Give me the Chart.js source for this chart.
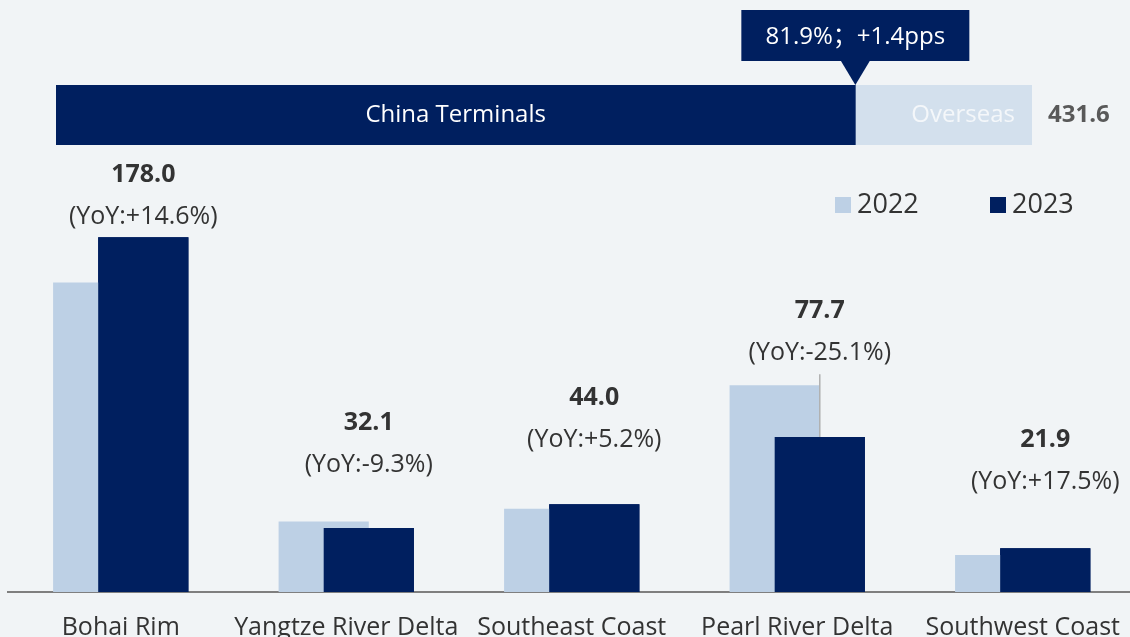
<!DOCTYPE html>
<html>
<head>
<meta charset="utf-8">
<script src="https://cdn.jsdelivr.net/npm/chart.js@4.4.1/dist/chart.umd.min.js"></script>
<style>
    html, body { margin: 0; padding: 0; background: #f1f4f6; overflow: hidden; }
    #wrap { position: relative; width: 1130px; height: 637px; overflow: hidden; }
    #mainChart { position: absolute; left: 0; top: 0; }
    #shareChart { position: absolute; left: 0; top: 0; }
</style>
</head>
<body>
<div id="wrap">
    <canvas id="mainChart" width="1141" height="637"></canvas>
    <canvas id="shareChart" width="1130" height="160"></canvas>
</div>
<script>
// data
const regions = ['Bohai Rim', 'Yangtze River Delta', 'Southeast Coast', 'Pearl River Delta', 'Southwest Coast'];
const seriesNames = ['2022', '2023'];
const values2022 = [155.3, 35.4, 41.8, 103.7, 18.6];
const values2023 = [178.0, 32.1, 44.0, 77.7, 21.9];
const yoyChange = [14.6, -9.3, 5.2, -25.1, 17.5];

const shareLabels = ['China Terminals', 'Overseas'];
const chinaShare = [81.9];
const overseasShare = [18.1];
const totalThroughput = '431.6';
const shareNote = '81.9%；+1.4pps';

// colours / fonts
const NAVY = '#001f5f';
const LIGHT = '#bdd0e5';
const PALE = '#d3e0ed';
const TEXT = '#333333';
const FONT = "'Open Sans', 'Noto Sans CJK SC', sans-serif";

// how far above the 2023 bar the YoY line sits
const yoyLift = [20, 63, 64, 84, 66];

// labels, legend and leader line for the region chart
const regionLabels = {
    id: 'regionLabels',
    afterDatasetsDraw(chart) {
        const ctx = chart.ctx;
        // 2023 bars go in front of the 2022 ones
        chart.getDatasetMeta(1).controller.draw();

        const meta = chart.getDatasetMeta(1);
        ctx.save();
        ctx.textAlign = 'center';
        ctx.textBaseline = 'middle';
        meta.data.forEach((bar, i) => {
            const yoyY = bar.y - yoyLift[i];
            ctx.fillStyle = TEXT;
            ctx.font = `bold 25px ${FONT}`;
            ctx.fillText(values2023[i].toFixed(1), bar.x, yoyY - 42);
            ctx.font = `25px ${FONT}`;
            const sign = yoyChange[i] > 0 ? '+' : '';
            ctx.fillText(`(YoY:${sign}${yoyChange[i].toFixed(1)}%)`, bar.x, yoyY);
        });

        // leader line on Pearl River Delta
        const pearl = meta.data[3];
        const prev = chart.getDatasetMeta(0).data[3];
        ctx.strokeStyle = '#b0b0b0';
        ctx.lineWidth = 1.5;
        ctx.beginPath();
        ctx.moveTo(pearl.x, pearl.y);
        ctx.lineTo(pearl.x, prev.y - 11);
        ctx.stroke();

        // legend
        const legendX = [835, 990];
        ctx.textAlign = 'left';
        ctx.font = `27px ${FONT}`;
        chart.data.datasets.forEach((ds, i) => {
            ctx.fillStyle = ds.backgroundColor;
            ctx.fillRect(legendX[i], 197, 16, 16);
            ctx.fillStyle = TEXT;
            ctx.fillText(ds.label, legendX[i] + 22, 205);
        });
        ctx.restore();
    }
};

new Chart(document.getElementById('mainChart'), {
    type: 'bar',
    data: {
        labels: regions,
        datasets: [
            { label: seriesNames[0], data: values2022, backgroundColor: LIGHT },
            { label: seriesNames[1], data: values2023, backgroundColor: NAVY }
        ]
    },
    options: {
        responsive: false,
        animation: false,
        layout: { padding: { left: 8, right: 0, top: 0, bottom: 0 } },
        datasets: { bar: { categoryPercentage: 0.4, barPercentage: 2 } },
        plugins: { legend: { display: false }, tooltip: { enabled: false } },
        scales: {
            x: {
                grid: { display: false, drawTicks: false },
                border: { display: true, color: '#7f7f7f', width: 2 },
                ticks: { color: TEXT, font: { size: 25, family: FONT }, padding: 21, maxRotation: 0, autoSkip: false },
                afterFit(scale) { scale.height = 45; }
            },
            y: { display: false, min: 0, max: 297 }
        }
    },
    plugins: [regionLabels]
});

// labels and callout for the share bar
const shareText = {
    id: 'shareText',
    afterDatasetsDraw(chart) {
        const ctx = chart.ctx;
        const china = chart.getDatasetMeta(0).data[0];
        const over = chart.getDatasetMeta(1).data[0];
        const midY = china.y;
        const top = midY - china.height / 2;
        ctx.save();
        ctx.textBaseline = 'middle';
        ctx.textAlign = 'center';
        ctx.font = `24px ${FONT}`;
        ctx.fillStyle = '#ffffff';
        ctx.fillText(shareLabels[0], (china.base + china.x) / 2, midY);
        ctx.textAlign = 'right';
        ctx.fillStyle = '#f4f7fa';
        ctx.fillText(shareLabels[1], over.x - 17, midY);
        ctx.textAlign = 'left';
        ctx.font = `bold 24px ${FONT}`;
        ctx.fillStyle = '#595959';
        ctx.fillText(totalThroughput, over.x + 16, midY);

        // callout box pointing at the split
        const ax = china.x;
        ctx.fillStyle = NAVY;
        ctx.fillRect(ax - 114, 10, 228, 51);
        ctx.beginPath();
        ctx.moveTo(ax - 15, 60);
        ctx.lineTo(ax + 15, 60);
        ctx.lineTo(ax, top);
        ctx.closePath();
        ctx.fill();
        ctx.fillStyle = '#ffffff';
        ctx.textAlign = 'center';
        ctx.font = `24px ${FONT}`;
        ctx.fillText(shareNote, ax, 37);
        ctx.restore();
    }
};

new Chart(document.getElementById('shareChart'), {
    type: 'bar',
    data: {
        labels: [''],
        datasets: [
            { label: shareLabels[0], data: chinaShare, backgroundColor: NAVY },
            { label: shareLabels[1], data: overseasShare, backgroundColor: PALE }
        ]
    },
    options: {
        indexAxis: 'y',
        responsive: false,
        animation: false,
        layout: { padding: { left: 56, right: 98, top: 85, bottom: 15 } },
        datasets: { bar: { categoryPercentage: 1, barPercentage: 1 } },
        plugins: { legend: { display: false }, tooltip: { enabled: false } },
        scales: {
            x: { display: false, stacked: true, min: 0, max: 100 },
            y: { display: false, stacked: true }
        }
    },
    plugins: [shareText]
});
</script>
</body>
</html>
